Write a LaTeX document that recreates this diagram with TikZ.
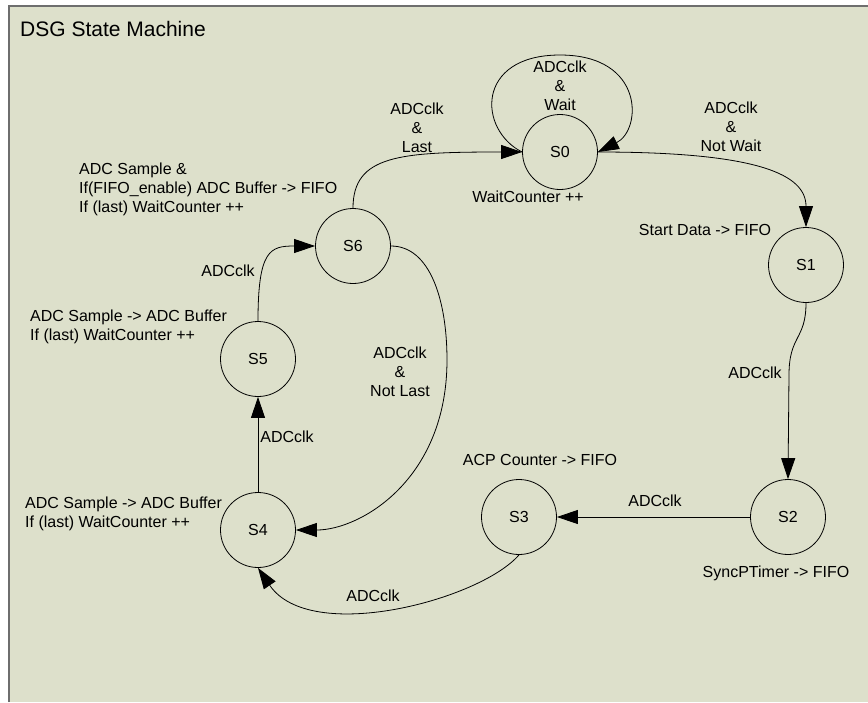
\documentclass[tikz,border=0pt]{standalone}
\usepackage{fontspec}
\setmainfont{Liberation Sans}
\usetikzlibrary{arrows.meta}
\definecolor{bgc}{RGB}{221,224,203}
\definecolor{framec}{RGB}{110,110,110}
\begin{document}
\begin{tikzpicture}[x=1pt,y=-1pt,
  state/.style={circle,draw,line width=0.8pt,minimum size=75pt,inner sep=0pt,font=\fontsize{16}{19}\selectfont},
  lbl/.style={inner sep=0pt,align=center,font=\fontsize{16}{19}\selectfont},
  note/.style={inner sep=0pt,align=left,anchor=west,font=\fontsize{16}{19}\selectfont},
  arr/.style={line width=0.8pt,-{Triangle[length=21pt,width=14pt]}}]
\useasboundingbox (0,0) rectangle (868,702);
\fill[white] (0,0) rectangle (868,702);
\fill[bgc] (9,6) rectangle (868,702);
\draw[framec,line width=1.3pt] (9,702) -- (9,6) -- (868,6);
\node[note,font=\fontsize{21}{25}\selectfont] (title) at (20,29) {DSG State Machine};
% states
\node[state] (S0) at (560,152) {S0};
\node[state] (S1) at (806,265) {S1};
\node[state] (S2) at (788,517) {S2};
\node[state] (S3) at (519,517) {S3};
\node[state] (S4) at (258,530) {S4};
\node[state] (S5) at (258,359) {S5};
\node[state] (S6) at (353,246) {S6};
% transitions
\draw[arr] (S6.north) .. controls (353,155) and (400,152) .. (S0.west);
\draw[arr] (S0.west) .. controls (478,130) and (475,55) .. (560,55) .. controls (645,55) and (642,130) .. (S0.east);
\draw[arr] (S0.east) .. controls (760,152) and (806,175) .. (S1.north);
\draw[arr] (S1.south) .. controls (806,340) and (789,335) .. (789,375) -- (S2.north);
\draw[arr] (S2.west) -- (S3.east);
\draw[arr] (S3.south) .. controls (480,600) and (310,645) .. (S4.south);
\draw[arr] (S4.north) -- (S5.south);
\draw[arr] (S5.north) .. controls (258,250) and (270,246) .. (S6.west);
\draw[arr] (S6.east) .. controls (430,246) and (447,300) .. (447,360) .. controls (447,480) and (360,530) .. (S4.east);
% transition labels
\node[lbl] (l60) at (417,128) {ADCclk\\\&\\Last};
\node[lbl] (l00) at (560,86) {ADCclk\\\&\\Wait};
\node[lbl] (l01) at (731,127) {ADCclk\\\&\\Not Wait};
\node[lbl] (l12) at (755,373) {ADCclk};
\node[lbl] (l23) at (655,501) {ADCclk};
\node[lbl] (l34) at (373,596) {ADCclk};
\node[lbl] (l45) at (287,437) {ADCclk};
\node[lbl] (l56) at (228,271) {ADCclk};
\node[lbl] (l64) at (400,372) {ADCclk\\\&\\Not Last};
% state actions
\node[lbl] (n0) at (528,197) {WaitCounter ++};
\node[lbl] (n1) at (705,230) {Start Data -> FIFO};
\node[lbl] (n2) at (776,573) {SyncPTimer -> FIFO};
\node[lbl] (n3) at (540,460) {ACP Counter -> FIFO};
\node[note] (n4) at (25,513.5) {ADC Sample -> ADC Buffer\\If (last) WaitCounter ++};
\node[note] (n5) at (30,326.5) {ADC Sample -> ADC Buffer\\If (last) WaitCounter ++};
\node[note] (n6) at (79,189) {ADC Sample \&\\If(FIFO\_enable) ADC Buffer -> FIFO\\If (last) WaitCounter ++};
\end{tikzpicture}
\end{document}
